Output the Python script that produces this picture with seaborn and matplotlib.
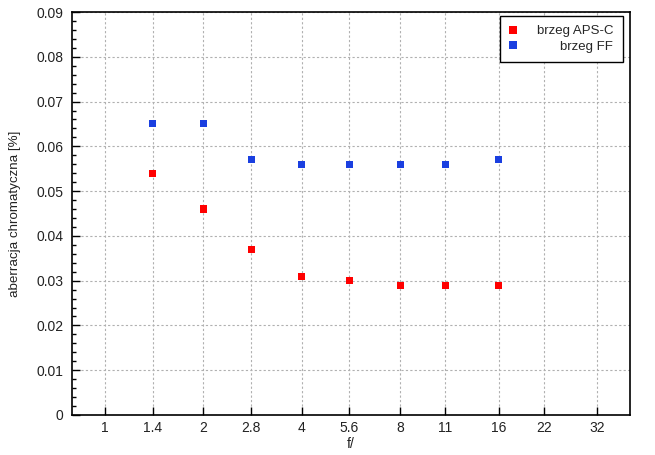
import matplotlib
matplotlib.use("Agg")
import matplotlib.pyplot as plt
import seaborn as sns
import pandas as pd
from matplotlib.ticker import FixedLocator, FixedFormatter, MultipleLocator, NullLocator

f_numbers = [1.4, 2, 2.8, 4, 5.6, 8, 11, 16]
aps_c = [0.054, 0.046, 0.037, 0.031, 0.030, 0.029, 0.029, 0.029]
ff = [0.065, 0.065, 0.057, 0.056, 0.056, 0.056, 0.056, 0.057]
x_ticks = [1, 1.4, 2, 2.8, 4, 5.6, 8, 11, 16, 22, 32]
x_tick_labels = ["1", "1.4", "2", "2.8", "4", "5.6", "8", "11", "16", "22", "32"]
series_names = ["brzeg APS-C", "brzeg FF"]

df = pd.DataFrame({
    "f": f_numbers * 2,
    "val": aps_c + ff,
    "series": [series_names[0]] * len(f_numbers) + [series_names[1]] * len(f_numbers),
})

sns.set_style("white")
plt.rcParams["font.family"] = ["Liberation Sans", "DejaVu Sans"]
plt.rcParams["font.size"] = 10

fig = plt.figure(figsize=(6.55, 4.55), dpi=100)
ax = fig.add_axes([72 / 655, 1 - 415 / 455, (630 - 72) / 655, (415 - 12) / 455])

sns.scatterplot(data=df, x="f", y="val", hue="series",
                palette={series_names[0]: "#ff0000", series_names[1]: "#1a3fe0"},
                marker="s", s=26, linewidth=0, ax=ax, zorder=3)

ax.set_xscale("log", base=2)
ax.set_xlim(0.793, 40.4)
ax.set_ylim(0, 0.09)
ax.xaxis.set_major_locator(FixedLocator(x_ticks))
ax.xaxis.set_major_formatter(FixedFormatter(x_tick_labels))
ax.xaxis.set_minor_locator(NullLocator())
ax.set_yticks([0, 0.01, 0.02, 0.03, 0.04, 0.05, 0.06, 0.07, 0.08, 0.09])
ax.set_yticklabels(["0", "0.01", "0.02", "0.03", "0.04", "0.05", "0.06", "0.07", "0.08", "0.09"])
ax.yaxis.set_minor_locator(MultipleLocator(0.002))

ax.tick_params(axis="both", which="major", direction="in", length=6, width=1,
               color="black", labelsize=10, labelcolor="#222222")
ax.tick_params(axis="y", which="minor", direction="in", length=3, width=1, color="black", left=True)
ax.tick_params(axis="x", which="major", bottom=True, top=False, pad=4)
ax.tick_params(axis="y", which="major", left=True, right=False, pad=6)

ax.grid(True, which="major", linestyle=(0, (2, 2)), color="#b0b0b0", linewidth=0.8)
for sp in ax.spines.values():
    sp.set_color("black")
    sp.set_linewidth(1.2)

ax.set_xlabel("f/", fontsize=10, color="#222222", labelpad=2)
ax.set_ylabel("aberracja chromatyczna [%]", fontsize=9.6, color="#222222", labelpad=11)

leg = ax.legend(loc="upper right", frameon=True, fancybox=False, edgecolor="black",
                framealpha=1, fontsize=9.5, borderpad=0.72, handletextpad=1.55,
                handlelength=0.5, bbox_to_anchor=((622.7 - 72) / 558, 1 - (15.7 - 12) / 403),
                borderaxespad=0, labelspacing=0.25, markerscale=1.0)
leg.get_frame().set_linewidth(1.0)
fig.canvas.draw()
renderer = fig.canvas.get_renderer()
widths = [t.get_window_extent(renderer).width for t in leg.get_texts()]
wmax = max(widths)
for t, w in zip(leg.get_texts(), widths):
    t.set_position((wmax - w, 0))

fig.savefig("out.png", dpi=100)
